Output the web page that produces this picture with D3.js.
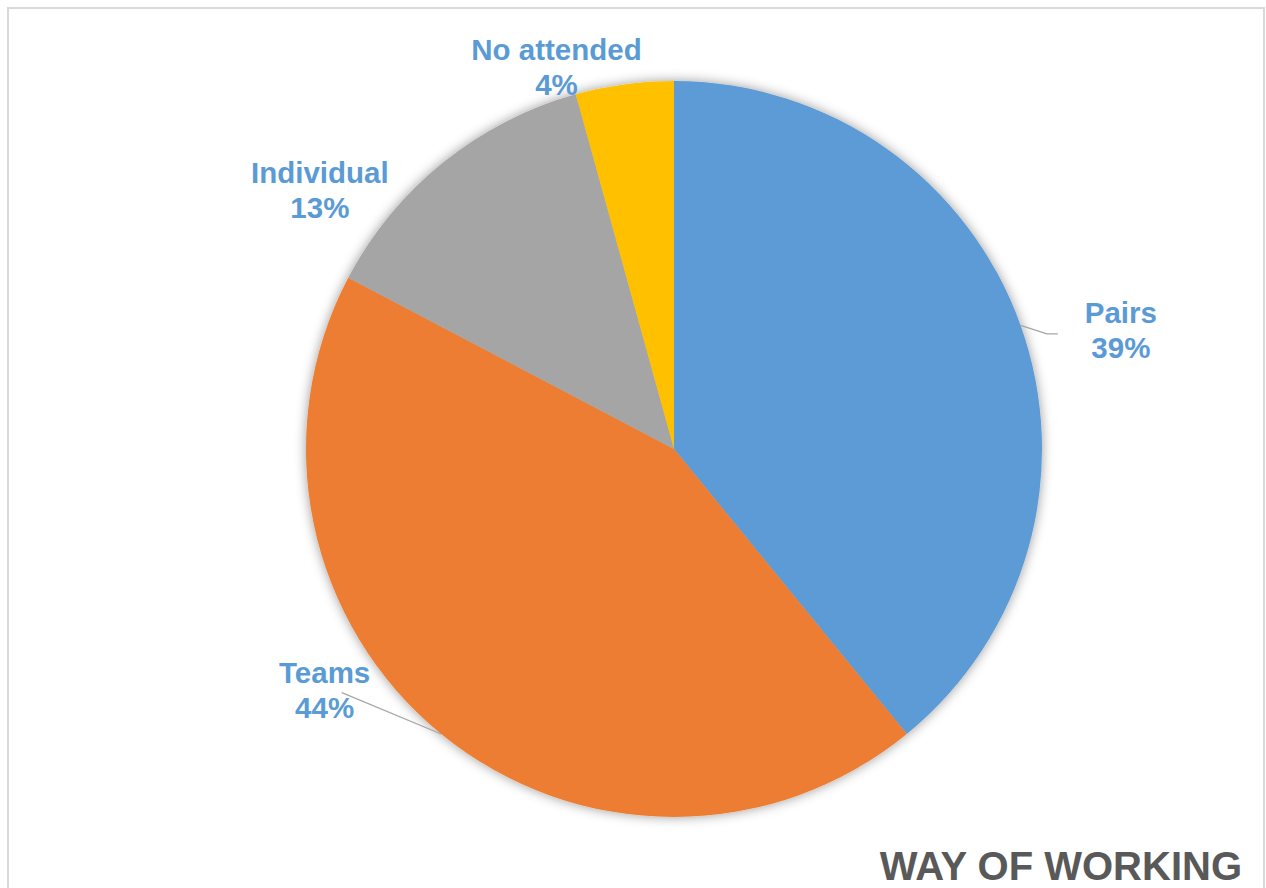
<!DOCTYPE html>
<html>
<head>
<meta charset="utf-8">
<script src="https://cdn.jsdelivr.net/npm/d3@7"></script>
<style>
  html, body { margin: 0; padding: 0; background: #fff; }
  svg { display: block; }
</style>
</head>
<body>
<svg id="chart" width="1266" height="888"></svg>
<script>
// ---- data ----
const categories = ["Pairs", "Teams", "Individual", "No attended"];
const shares = [39.1, 43.6, 13.0, 4.3];
const title = "WAY OF WORKING";

// ---- layout / style ----
const W = 1266, H = 888;
const cx = 674, cy = 449, R = 368;
const colors = ["#5B9BD5", "#ED7D31", "#A5A5A5", "#FFC000"];
const labelColor = "#5B9BD5";
// label anchor: distance from centre and angular tweak (deg) per slice
const labelRadius = [460, 430, 433, 390];
const labelAngleShift = [5.9, 15.1, -16.0, -9.8];
const leaders = [true, true, false, false];

const svg = d3.select("#chart");

// frame
svg.append("rect")
  .attr("x", 8).attr("y", 8)
  .attr("width", 1256).attr("height", 900)
  .attr("fill", "#fff")
  .attr("stroke", "#d9d9d9").attr("stroke-width", 2);

const defs = svg.append("defs");
const f = defs.append("filter").attr("id", "shadow")
  .attr("x", "-10%").attr("y", "-10%").attr("width", "120%").attr("height", "120%");
f.append("feDropShadow").attr("dx", 0).attr("dy", 0)
  .attr("stdDeviation", 6).attr("flood-color", "#000").attr("flood-opacity", 0.4);

const data = categories.map((c, i) => ({ name: c, value: shares[i], i }));
const total = d3.sum(shares);

const pie = d3.pie().value(d => d.value).sort(null);
const arcs = pie(data);
const arc = d3.arc().innerRadius(0).outerRadius(R);

const g = svg.append("g").attr("transform", `translate(${cx},${cy})`);

g.append("g").attr("filter", "url(#shadow)")
  .selectAll("path").data(arcs).join("path")
  .attr("d", arc)
  .attr("fill", d => colors[d.data.i]);

const fmt = d3.format(".0%");

function polar(r, a) { return [r * Math.sin(a), -r * Math.cos(a)]; }

arcs.forEach((d, k) => {
  const mid = (d.startAngle + d.endAngle) / 2;
  const la = mid + labelAngleShift[k] * Math.PI / 180;
  const [lx, ly] = polar(labelRadius[k], la);
  // leader line
  if (leaders[k]) {
    const [sx, sy] = polar(R, mid);
    let pts;
    if (lx > 0) {
      pts = [[sx, sy], [lx - 74, ly - 6], [lx - 63, ly - 6]];
    } else {
      pts = [[sx, sy], [lx + 22, ly - 5], [lx + 17, ly - 7]];
    }
    g.append("path")
      .attr("d", d3.line()(pts))
      .attr("fill", "none")
      .attr("stroke", "#a6a6a6").attr("stroke-width", 1.3);
  }
  const t = g.append("text")
    .attr("x", lx).attr("y", ly - 17)
    .attr("text-anchor", "middle")
    .attr("font-family", "Liberation Sans, Arial, sans-serif")
    .attr("font-weight", "bold")
    .attr("font-size", 29.5)
    .attr("fill", labelColor);
  t.append("tspan").attr("x", lx).text(d.data.name);
  t.append("tspan").attr("x", lx).attr("dy", 35).text(fmt(d.data.value / total));
});

svg.append("text")
  .attr("x", 1242).attr("y", 880)
  .attr("text-anchor", "end")
  .attr("font-family", "Liberation Sans, Arial, sans-serif")
  .attr("font-weight", "bold")
  .attr("font-size", 40)
  .attr("fill", "#595959")
  .text(title);
</script>
</body>
</html>
